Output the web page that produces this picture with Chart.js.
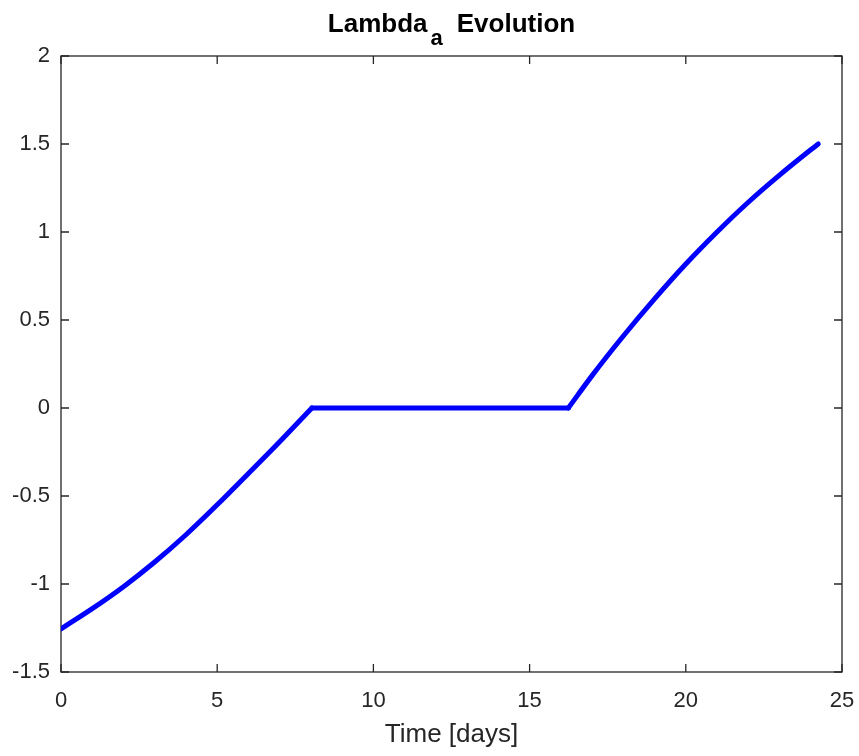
<!DOCTYPE html>
<html>
<head>
<meta charset="utf-8">
<script src="https://cdn.jsdelivr.net/npm/chart.js@4/dist/chart.umd.min.js"></script>
<style>
  html, body { margin: 0; padding: 0; background: #ffffff; }
  #wrap { width: 859px; height: 756px; position: relative; }
</style>
</head>
<body>
<div id="wrap"><canvas id="c" width="859" height="756"></canvas></div>
<script>
// ---- data ----
const timeDays = [0, 1, 2, 3, 4, 5, 6, 7, 8.03, 9, 10, 11, 12, 13, 14, 15, 16, 16.24, 17, 18, 19, 20, 21, 22, 23, 24, 24.24];
const lambdaA  = [-1.255, -1.14, -1.015, -0.875, -0.72, -0.55, -0.372, -0.192, 0, 0, 0, 0, 0, 0, 0, 0, 0, 0, 0.184, 0.409, 0.62, 0.818, 1.0, 1.169, 1.323, 1.467, 1.50];
// indices where the curve has a sharp corner (start of plateau, end of plateau)
const cornerIdx = [8, 17];
const xTicks = [0, 5, 10, 15, 20, 25];
const xTickLabels = ['0', '5', '10', '15', '20', '25'];
const yTicks = [-1.5, -1, -0.5, 0, 0.5, 1, 1.5, 2];
const yTickLabels = ['-1.5', '-1', '-0.5', '0', '0.5', '1', '1.5', '2'];
const titleMain = 'Lambda';
const titleSub = 'a';
const titleRest = 'Evolution';
const xAxisTitle = 'Time [days]';

const AXIS_COLOR = '#262626';
const FONT = "'Liberation Sans', Arial, Helvetica, sans-serif";

const points = timeDays.map((t, i) => ({ x: t, y: lambdaA[i] }));
const bounds = [0, ...cornerIdx, points.length - 1];
const pieces = [];
for (let k = 0; k < bounds.length - 1; k++) {
  pieces.push(points.slice(bounds[k], bounds[k + 1] + 1));
}

const boxPlugin = {
  id: 'matlabBox',
  beforeDatasetsDraw(chart) {
    const { ctx, chartArea: a, scales } = chart;
    ctx.save();
    ctx.strokeStyle = AXIS_COLOR;
    ctx.lineWidth = 1.3;
    ctx.strokeRect(a.left, a.top, a.right - a.left, a.bottom - a.top);
    const tl = 8;
    ctx.beginPath();
    xTicks.forEach(v => {
      const px = scales.x.getPixelForValue(v);
      ctx.moveTo(px, a.bottom); ctx.lineTo(px, a.bottom - tl);
      ctx.moveTo(px, a.top); ctx.lineTo(px, a.top + tl);
    });
    yTicks.forEach(v => {
      const py = scales.y.getPixelForValue(v);
      ctx.moveTo(a.left, py); ctx.lineTo(a.left + tl, py);
      ctx.moveTo(a.right, py); ctx.lineTo(a.right - tl, py);
    });
    ctx.stroke();
    ctx.restore();
  },
  afterDraw(chart) {
    const { ctx, chartArea: a } = chart;
    ctx.save();
    ctx.fillStyle = '#000000';
    ctx.textBaseline = 'alphabetic';
    ctx.textAlign = 'left';
    const mainFont = 'bold 26px ' + FONT;
    const subFont = 'bold 22px ' + FONT;
    const gap1 = 3, gap2 = 14;
    ctx.font = mainFont;
    const w1 = ctx.measureText(titleMain).width;
    const w3 = ctx.measureText(titleRest).width;
    ctx.font = subFont;
    const w2 = ctx.measureText(titleSub).width;
    const total = w1 + gap1 + w2 + gap2 + w3;
    const cx = (a.left + a.right) / 2;
    let x = cx - total / 2;
    const base = 32;
    ctx.font = mainFont;
    ctx.fillText(titleMain, x, base);
    x += w1 + gap1;
    ctx.font = subFont;
    ctx.fillText(titleSub, x, base + 13);
    x += w2 + gap2;
    ctx.font = mainFont;
    ctx.fillText(titleRest, x, base);
    ctx.restore();
  }
};

const lineStyle = {
  borderColor: '#0000FF',
  backgroundColor: '#0000FF',
  borderWidth: 5,
  pointRadius: 0,
  borderCapStyle: 'round',
  borderJoinStyle: 'round',
  cubicInterpolationMode: 'monotone',
  fill: false
};

new Chart(document.getElementById('c'), {
  type: 'line',
  data: {
    datasets: pieces.map(p => Object.assign({ data: p }, lineStyle))
  },
  options: {
    responsive: false,
    animation: false,
    layout: { padding: { top: 56, right: 17, left: 0, bottom: 0 } },
    plugins: {
      legend: { display: false },
      title: { display: false },
      tooltip: { enabled: false }
    },
    scales: {
      x: {
        type: 'linear',
        min: 0, max: 25,
        afterBuildTicks(s) { s.ticks = xTicks.map(v => ({ value: v })); },
        afterFit(s) { s.height = 84; s.paddingLeft = 0; s.paddingRight = 0; },
        grid: { display: false, drawTicks: false },
        border: { display: false },
        ticks: {
          padding: 16,
          color: AXIS_COLOR,
          font: { family: FONT, size: 22 },
          maxRotation: 0,
          callback: (v) => xTickLabels[xTicks.indexOf(v)]
        },
        title: {
          display: true,
          text: xAxisTitle,
          color: AXIS_COLOR,
          font: { family: FONT, size: 26 },
          padding: { top: 0, bottom: 6 }
        }
      },
      y: {
        type: 'linear',
        min: -1.5, max: 2,
        afterBuildTicks(s) { s.ticks = yTicks.map(v => ({ value: v })); },
        afterFit(s) { s.width = 61; s.paddingTop = 0; s.paddingBottom = 0; },
        grid: { display: false, drawTicks: false },
        border: { display: false },
        ticks: {
          padding: 11,
          color: AXIS_COLOR,
          font: { family: FONT, size: 22 },
          callback: (v) => yTickLabels[yTicks.indexOf(v)]
        }
      }
    }
  },
  plugins: [boxPlugin]
});
</script>
</body>
</html>
